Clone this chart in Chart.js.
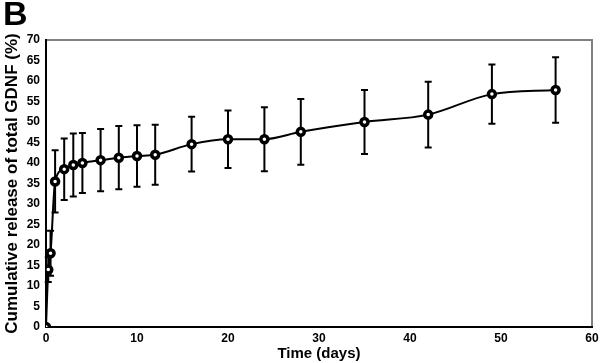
<!DOCTYPE html>
<html>
<head>
<meta charset="utf-8">
<script src="https://cdn.jsdelivr.net/npm/chart.js@4/dist/chart.umd.min.js"></script>
<style>
  html, body { margin: 0; padding: 0; background: #fff; }
  #wrap { position: relative; width: 600px; height: 363px; }
  #panel { position: absolute; left: 3px; top: -6px; font: bold 34px "Liberation Sans", Arial, sans-serif; color: #000; }
  canvas { position: absolute; left: 0; top: 0; }
</style>
</head>
<body>
<div id="wrap">
  <canvas id="c" width="600" height="363"></canvas>
  <div id="panel">B</div>
</div>
<script>
const days = [0, 0.25, 0.5, 1, 2, 3, 4, 6, 8, 10, 12, 16, 20, 24, 28, 35, 42, 49, 56];
const release = [0, 14, 18, 35.5, 38.5, 39.5, 40, 40.7, 41.3, 41.7, 42, 44.6, 45.8, 45.8, 47.6, 50, 51.8, 56.8, 57.8];
const errors = [0, 3, 5.5, 7.6, 7.5, 7.7, 7.3, 7.6, 7.7, 7.5, 7.3, 6.7, 7, 7.8, 8, 7.8, 8, 7.2, 8];
const xTickLabels = ['0', '10', '20', '30', '40', '50', '60'];
const xTitle = 'Time (days)';
const yTitle = 'Cumulative release of total GDNF (%)';

const points = days.map((d, i) => ({ x: d, y: release[i] }));

const errorBars = {
  id: 'errorBars',
  beforeDatasetsDraw(chart) {
    const { ctx, scales: { x, y } } = chart;
    ctx.save();
    ctx.strokeStyle = '#000';
    ctx.lineWidth = 2;
    days.forEach((d, i) => {
      const e = errors[i];
      if (!e) return;
      const px = x.getPixelForValue(d);
      const top = y.getPixelForValue(release[i] + e);
      const bot = y.getPixelForValue(release[i] - e);
      ctx.beginPath();
      ctx.moveTo(px, top); ctx.lineTo(px, bot);
      ctx.moveTo(px - 3.5, top); ctx.lineTo(px + 3.5, top);
      ctx.moveTo(px - 3.5, bot); ctx.lineTo(px + 3.5, bot);
      ctx.stroke();
    });
    ctx.restore();
  }
};

const frame = {
  id: 'frame',
  beforeDraw(chart) {
    const { ctx, chartArea: a } = chart;
    ctx.save();
    ctx.strokeStyle = '#808080';
    ctx.lineWidth = 2;
    ctx.beginPath();
    ctx.moveTo(a.left, a.top); ctx.lineTo(a.right, a.top); ctx.lineTo(a.right, a.bottom);
    ctx.stroke();
    ctx.restore();
  }
};

const font = { family: '"Liberation Sans", Arial, sans-serif', weight: 'bold' };

new Chart(document.getElementById('c'), {
  type: 'line',
  data: {
    datasets: [{
      data: points,
      borderColor: '#000',
      borderWidth: 2,
      backgroundColor: '#fff',
      pointBorderColor: '#000',
      pointBackgroundColor: '#fff',
      pointBorderWidth: 3.5,
      pointRadius: 3.5,
      cubicInterpolationMode: 'monotone',
      fill: false
    }]
  },
  options: {
    responsive: false,
    animation: false,
    layout: { padding: { left: 0, top: 40, right: 8, bottom: 0 } },
    plugins: { legend: { display: false }, tooltip: { enabled: false } },
    scales: {
      x: {
        type: 'linear', min: 0, max: 60,
        afterBuildTicks(s) { s.ticks = xTickLabels.map(v => ({ value: Number(v) })); },
        ticks: { color: '#000', font: { ...font, size: 12 }, padding: 0, maxRotation: 0, autoSkip: false },
        grid: { display: false, drawTicks: true, tickLength: 4, tickColor: '#000' },
        border: { display: true, color: '#000', width: 2 },
        title: { display: true, text: xTitle, color: '#000', font: { ...font, size: 15 }, padding: { top: -4, bottom: 0 } },
        afterFit(s) { s.height = 36; }
      },
      y: {
        type: 'linear', min: 0, max: 70,
        ticks: { stepSize: 5, color: '#000', font: { ...font, size: 12 }, padding: 2 },
        grid: { display: false, drawTicks: true, tickLength: 4, tickColor: '#000' },
        border: { display: true, color: '#000', width: 2 },
        title: { display: true, text: yTitle, color: '#000', font: { ...font, size: 17 }, padding: { top: 2, bottom: 0 } },
        afterFit(s) { s.width = 46; }
      }
    }
  },
  plugins: [frame, errorBars]
});
</script>
</body>
</html>
